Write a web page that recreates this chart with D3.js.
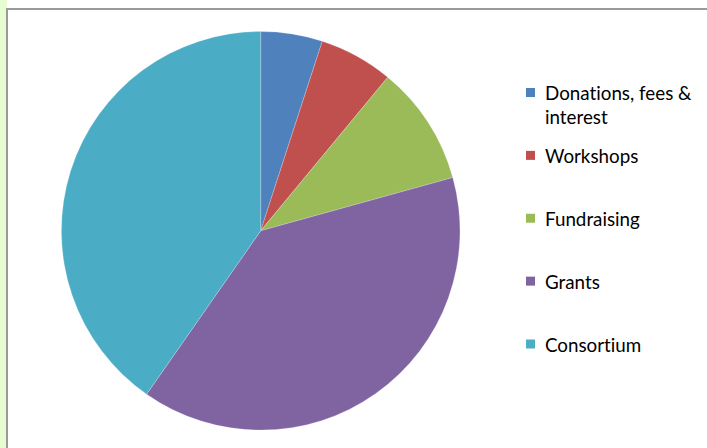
<!DOCTYPE html>
<html>
<head>
<meta charset="utf-8">
<script src="https://cdn.jsdelivr.net/npm/d3@7"></script>
<style>
  body { margin: 0; background: #fff; }
  svg { display: block; }
  text { font-variant-ligatures: none; font-feature-settings: "liga" 0, "clig" 0; }
</style>
</head>
<body>
<svg id="chart" width="707" height="448"></svg>
<script>
var categories = ["Donations, fees & interest", "Workshops", "Fundraising", "Grants", "Consortium"];
var values = [5.0, 6.0, 9.7, 39.0, 40.3];
var legendLines = [["Donations, fees &", "interest"], ["Workshops"], ["Fundraising"], ["Grants"], ["Consortium"]];
var colors = ["#4F81BD", "#C0504D", "#9BBB59", "#8064A2", "#4BACC6"];

var W = 707, H = 448;
var cx = 260.7, cy = 230.8, r = 199.3;

var svg = d3.select("#chart");

// page strip + chart frame
svg.append("rect").attr("x", 0).attr("y", 0).attr("width", 7).attr("height", H).attr("fill", "#E6FDD2");
svg.append("line").attr("x1", 7).attr("y1", 9).attr("x2", W).attr("y2", 9)
    .attr("stroke", "#9a9a9a").attr("stroke-width", 2);
svg.append("line").attr("x1", 7).attr("y1", 8).attr("x2", 7).attr("y2", H)
    .attr("stroke", "#9a9a9a").attr("stroke-width", 2);

var data = categories.map(function(c, i) { return {name: c, value: values[i]}; });

var pie = d3.pie().sort(null).value(function(d) { return d.value; });
var arc = d3.arc().innerRadius(0).outerRadius(r);
var color = d3.scaleOrdinal().domain(categories).range(colors);

svg.append("g")
    .attr("transform", "translate(" + cx + "," + cy + ")")
  .selectAll("path")
  .data(pie(data))
  .enter().append("path")
    .attr("d", arc)
    .attr("fill", function(d) { return color(d.data.name); })
    .attr("stroke", "#ffffff")
    .attr("stroke-opacity", 0.35)
    .attr("stroke-width", 0.6);

// legend
var legendY = d3.scalePoint().domain(categories).range([92.5, 344]);

var leg = svg.append("g").selectAll("g")
  .data(categories)
  .enter().append("g")
    .attr("transform", function(d) { return "translate(526," + legendY(d) + ")"; });

leg.append("rect")
    .attr("x", 0).attr("y", -4.5)
    .attr("width", 9).attr("height", 9)
    .attr("fill", function(d) { return color(d); });

leg.append("text")
    .attr("x", 19)
    .attr("y", 7.5)
    .attr("font-family", "Lato, 'Open Sans', sans-serif")
    .attr("font-size", 18.8)
    .attr("fill", "#000")
    .selectAll("tspan")
    .data(function(d, i) { return legendLines[i]; })
    .enter().append("tspan")
      .attr("x", 19)
      .attr("dy", function(d, i) { return i === 0 ? 0 : 24; })
      .text(function(d) { return d; });
</script>
</body>
</html>
